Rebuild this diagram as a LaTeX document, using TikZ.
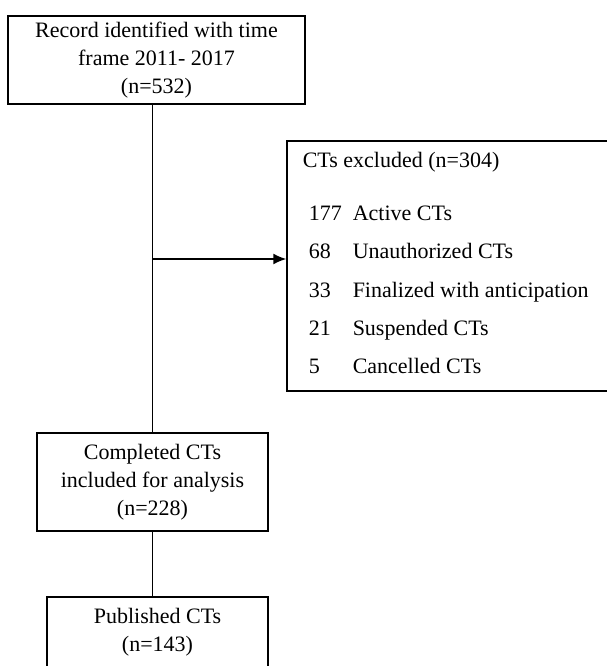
\documentclass[tikz,border=0pt]{standalone}
\usepackage{fontspec}
\setmainfont{Liberation Serif}
\usetikzlibrary{arrows.meta}
\tikzset{>={Latex[length=13pt, width=11pt]}}
\tikzset{box/.style={draw, line width=1.5pt, inner sep=0pt, align=center, font=\fontsize{22}{28}\selectfont}}
\tikzset{lbl/.style={anchor=base west, inner sep=0pt, font=\fontsize{22}{28}\selectfont}}

\begin{document}
\begin{tikzpicture}[x=1pt, y=-1pt, line width=1.5pt]
    \useasboundingbox(0, 0)rectangle(606, 666);
    \node[box, minimum width=297pt, minimum height=88pt](record)at(156.5, 60){Record identified with time\\frame 2011- 2017\\(n=532)};
    \node[box, minimum width=231pt, minimum height=98pt](done)at(152.5, 482){Completed CTs\\included for analysis\\(n=228)};
    \node[box, minimum width=221pt, minimum height=71pt](pub)at(157.5, 632.5){Published CTs\\(n=143)};
    \node[box, minimum width=325pt, minimum height=250pt](excl)at(449.5, 266){};
    % excluded trials
    \node[lbl](excltitle)at(302, 167){CTs excluded (n=304)};
    \node[lbl](n1)at(308, 220){177};  \node[lbl](r1)at(352, 220){Active CTs};
    \node[lbl](n2)at(308, 258){68};   \node[lbl](r2)at(352, 258){Unauthorized CTs};
    \node[lbl](n3)at(308, 297){33};   \node[lbl](r3)at(352, 297){Finalized with anticipation};
    \node[lbl](n4)at(308, 335){21};   \node[lbl](r4)at(352, 335){Suspended CTs};
    \node[lbl](n5)at(308, 373){5};    \node[lbl](r5)at(352, 373){Cancelled CTs};
    \coordinate(fork)at(153, 259);
    \draw(done.north |- record.south)--(done.north);
    \draw[->](fork)--(fork -| excl.west);
    \draw(done.south)--(done.south |- pub.north);
\end{tikzpicture}
\end{document}
